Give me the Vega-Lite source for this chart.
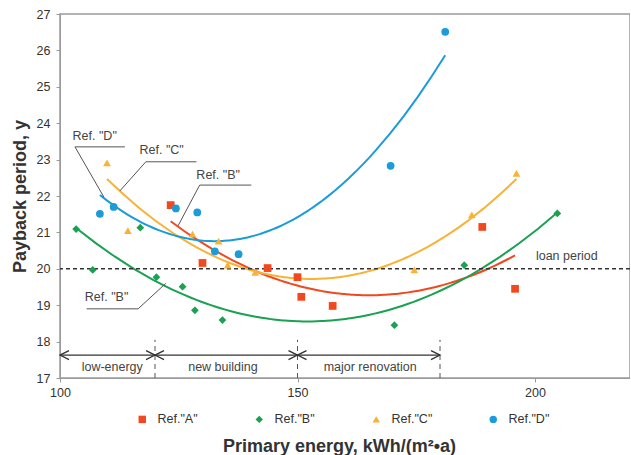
{
  "$schema": "https://vega.github.io/schema/vega-lite/v6.json",
  "autosize": {"type": "none"},
  "padding": {"left": 60, "top": 14, "right": 0, "bottom": 77},
  "width": 570,
  "height": 364,
  "background": "white",
  "config": {
    "font": "Liberation Sans",
    "view": {"stroke": "#9a9a9a", "strokeWidth": 1.5},
    "axis": {"grid": false, "domainColor": "#9a9a9a", "tickColor": "#9a9a9a", "tickSize": 4, "labelColor": "#333333", "labelFontSize": 12.5, "titleColor": "#333333", "titleFontSize": 18, "titleFontWeight": "bold", "labelFont": "Liberation Sans", "titleFont": "Liberation Sans", "labelOverlap": false, "labelFlush": false},
    "axisY": {"tickCount": 11, "labelOverlap": false}
  },
  "datasets": {
    "points": [
      {"ref": "Ref.\"A\"", "x": 123.3, "y": 21.75},
      {"ref": "Ref.\"A\"", "x": 130.0, "y": 20.16},
      {"ref": "Ref.\"A\"", "x": 143.7, "y": 20.02},
      {"ref": "Ref.\"A\"", "x": 150.0, "y": 19.77},
      {"ref": "Ref.\"A\"", "x": 150.8, "y": 19.23},
      {"ref": "Ref.\"A\"", "x": 157.4, "y": 18.98},
      {"ref": "Ref.\"A\"", "x": 188.9, "y": 21.15},
      {"ref": "Ref.\"A\"", "x": 195.8, "y": 19.45},
      {"ref": "Ref.\"B\"", "x": 103.4, "y": 21.09},
      {"ref": "Ref.\"B\"", "x": 106.9, "y": 19.97},
      {"ref": "Ref.\"B\"", "x": 116.9, "y": 21.13},
      {"ref": "Ref.\"B\"", "x": 120.3, "y": 19.77},
      {"ref": "Ref.\"B\"", "x": 125.8, "y": 19.51},
      {"ref": "Ref.\"B\"", "x": 128.4, "y": 18.86},
      {"ref": "Ref.\"B\"", "x": 134.2, "y": 18.59},
      {"ref": "Ref.\"B\"", "x": 170.4, "y": 18.45},
      {"ref": "Ref.\"B\"", "x": 185.1, "y": 20.10},
      {"ref": "Ref.\"B\"", "x": 204.7, "y": 21.52},
      {"ref": "Ref.\"C\"", "x": 109.9, "y": 22.91},
      {"ref": "Ref.\"C\"", "x": 114.3, "y": 21.05},
      {"ref": "Ref.\"C\"", "x": 127.9, "y": 20.95},
      {"ref": "Ref.\"C\"", "x": 133.4, "y": 20.76},
      {"ref": "Ref.\"C\"", "x": 135.3, "y": 20.10},
      {"ref": "Ref.\"C\"", "x": 141.1, "y": 19.90},
      {"ref": "Ref.\"C\"", "x": 174.6, "y": 19.97},
      {"ref": "Ref.\"C\"", "x": 186.7, "y": 21.48},
      {"ref": "Ref.\"C\"", "x": 196.1, "y": 22.62},
      {"ref": "Ref.\"D\"", "x": 108.4, "y": 21.51},
      {"ref": "Ref.\"D\"", "x": 111.3, "y": 21.70},
      {"ref": "Ref.\"D\"", "x": 124.4, "y": 21.66},
      {"ref": "Ref.\"D\"", "x": 128.9, "y": 21.55},
      {"ref": "Ref.\"D\"", "x": 132.6, "y": 20.48},
      {"ref": "Ref.\"D\"", "x": 137.6, "y": 20.40},
      {"ref": "Ref.\"D\"", "x": 169.6, "y": 22.83},
      {"ref": "Ref.\"D\"", "x": 181.1, "y": 26.51}
    ],
    "leaders": [
      {"x": 103.15, "y": 23.35, "x2": 113.66, "y2": 23.35},
      {"x": 103.15, "y": 23.35, "x2": 109.24, "y2": 21.97},
      {"x": 118.07, "y": 22.94, "x2": 128.72, "y2": 22.94},
      {"x": 118.07, "y": 22.94, "x2": 112.61, "y2": 22.14},
      {"x": 129.41, "y": 22.30, "x2": 140.27, "y2": 22.30},
      {"x": 129.41, "y": 22.30, "x2": 124.85, "y2": 21.18},
      {"x": 105.61, "y": 18.90, "x2": 116.45, "y2": 18.90},
      {"x": 116.45, "y": 18.90, "x2": 122.27, "y2": 19.60}
    ],
    "labels": [
      {"text": "Ref. \"D\"", "x": 107.3, "y": 23.65},
      {"text": "Ref. \"C\"", "x": 121.4, "y": 23.26},
      {"text": "Ref. \"B\"", "x": 133.3, "y": 22.58},
      {"text": "Ref. \"B\"", "x": 109.8, "y": 19.23},
      {"text": "loan period", "x": 206.7, "y": 20.35},
      {"text": "low-energy", "x": 111.0, "y": 17.31},
      {"text": "new building", "x": 134.3, "y": 17.31},
      {"text": "major renovation", "x": 165.3, "y": 17.31}
    ],
    "bounds": [{"x": 120}, {"x": 150}, {"x": 180}],
    "arrows": [
      {"x": 100, "dir": "left"},
      {"x": 120, "dir": "right"},
      {"x": 120, "dir": "left"},
      {"x": 150, "dir": "right"},
      {"x": 150, "dir": "left"},
      {"x": 180, "dir": "right"}
    ],
    "loan": [{"y": 20}],
    "span": [{"x": 100, "x2": 180, "y": 17.63}]
  },
  "layer": [
    {
      "data": {"name": "points"},
      "transform": [{"regression": "y", "on": "x", "groupby": ["ref"], "method": "poly", "order": 2}],
      "mark": {"type": "line", "strokeWidth": 2},
      "encoding": {
        "x": {
          "field": "x", "type": "quantitative",
          "scale": {"domain": [100, 220], "nice": false, "zero": false},
          "axis": {"values": [100, 150, 200], "labelFlush": false, "title": "Primary energy, kWh/(m²•a)", "titleX": 279, "titleY": 73, "titleBaseline": "alphabetic", "labelPadding": 4}
        },
        "y": {
          "field": "y", "type": "quantitative",
          "scale": {"domain": [17, 27], "nice": false, "zero": false},
          "axis": {"values": [17, 18, 19, 20, 21, 22, 23, 24, 25, 26, 27], "labelFlush": false, "labelOverlap": false, "title": "Payback period, y", "titleX": -40, "titleY": 182, "titleAngle": -90, "titleAlign": "center", "titleBaseline": "middle", "labelPadding": 6}
        },
        "color": {
          "field": "ref", "type": "nominal",
          "scale": {"domain": ["Ref.\"A\"", "Ref.\"B\"", "Ref.\"C\"", "Ref.\"D\""], "range": ["#F2481F", "#1AA152", "#F9B234", "#1B9CD9"]}
        }
      }
    },
    {
      "data": {"name": "loan"},
      "mark": {"type": "rule", "color": "#333333", "strokeWidth": 1.4, "strokeDash": [4, 3]},
      "encoding": {"y": {"field": "y", "type": "quantitative"}}
    },
    {
      "data": {"name": "bounds"},
      "mark": {"type": "rule", "color": "#555555", "strokeWidth": 1, "strokeDash": [5, 4]},
      "encoding": {
        "x": {"field": "x", "type": "quantitative"},
        "y": {"datum": 17, "type": "quantitative"},
        "y2": {"datum": 18.05}
      }
    },
    {
      "data": {"name": "span"},
      "mark": {"type": "rule", "color": "#333333", "strokeWidth": 1.3},
      "encoding": {
        "x": {"field": "x", "type": "quantitative"},
        "x2": {"field": "x2"},
        "y": {"field": "y", "type": "quantitative"}
      }
    },
    {
      "data": {"name": "arrows"},
      "transform": [{"filter": "datum.dir === 'left'"}],
      "mark": {"type": "point", "shape": "M2,-1L0,0L2,1", "filled": false, "stroke": "#333333", "strokeWidth": 1.3, "size": 81, "opacity": 1},
      "encoding": {
        "x": {"field": "x", "type": "quantitative"},
        "y": {"datum": 17.63, "type": "quantitative"}
      }
    },
    {
      "data": {"name": "arrows"},
      "transform": [{"filter": "datum.dir === 'right'"}],
      "mark": {"type": "point", "shape": "M-2,-1L0,0L-2,1", "filled": false, "stroke": "#333333", "strokeWidth": 1.3, "size": 81, "opacity": 1},
      "encoding": {
        "x": {"field": "x", "type": "quantitative"},
        "y": {"datum": 17.63, "type": "quantitative"}
      }
    },
    {
      "data": {"name": "leaders"},
      "mark": {"type": "rule", "color": "#555555", "strokeWidth": 1},
      "encoding": {
        "x": {"field": "x", "type": "quantitative"},
        "y": {"field": "y", "type": "quantitative"},
        "x2": {"field": "x2"},
        "y2": {"field": "y2"}
      }
    },
    {
      "data": {"name": "labels"},
      "mark": {"type": "text", "fontSize": 12.5, "color": "#444444", "align": "center", "baseline": "middle", "font": "Liberation Sans"},
      "encoding": {
        "x": {"field": "x", "type": "quantitative"},
        "y": {"field": "y", "type": "quantitative"},
        "text": {"field": "text"}
      }
    },
    {
      "data": {"name": "points"},
      "mark": {"type": "point", "filled": true, "opacity": 1, "size": 60},
      "encoding": {
        "x": {"field": "x", "type": "quantitative"},
        "y": {"field": "y", "type": "quantitative"},
        "color": {
          "field": "ref", "type": "nominal",
          "legend": {"orient": "none", "legendX": 76, "legendY": 399, "direction": "horizontal", "columns": 4, "gridAlign": "all", "columnPadding": 54, "title": null, "labelFontSize": 12.5, "labelColor": "#333333", "symbolSize": 55, "labelOffset": 9, "padding": 0, "symbolStrokeWidth": 0}
        },
        "shape": {
          "field": "ref", "type": "nominal",
          "scale": {"domain": ["Ref.\"A\"", "Ref.\"B\"", "Ref.\"C\"", "Ref.\"D\""], "range": ["square", "diamond", "triangle-up", "circle"]},
          "legend": {"orient": "none", "legendX": 76, "legendY": 399, "direction": "horizontal", "columns": 4, "gridAlign": "all", "columnPadding": 54, "title": null, "labelFontSize": 12.5, "labelColor": "#333333", "symbolSize": 55, "labelOffset": 9, "padding": 0, "symbolStrokeWidth": 0}
        }
      }
    }
  ]
}
